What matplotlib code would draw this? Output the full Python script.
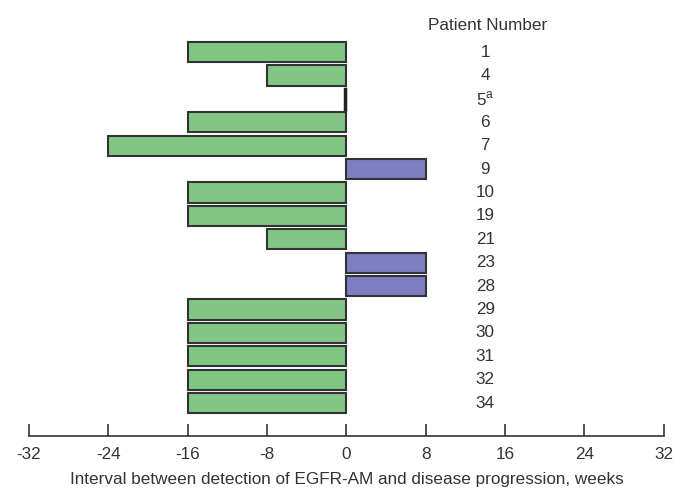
import matplotlib.pyplot as plt

plt.rcParams['font.family'] = ['Liberation Sans', 'DejaVu Sans']
plt.rcParams['axes.unicode_minus'] = False
plt.rcParams['mathtext.fontset'] = 'custom'
plt.rcParams['mathtext.rm'] = 'Liberation Sans'

# patient numbers (top to bottom) and interval in weeks
patients = ['1', '4', '5$^\\mathregular{a}$', '6', '7', '9', '10', '19', '21', '23', '28',
            '29', '30', '31', '32', '34']
weeks = [-16, -8, 0, -16, -24, 8, -16, -16, -8, 8, 8, -16, -16, -16, -16, -16]

green = '#82c685'
blue = '#7d7dc0'
colors = [blue if w > 0 else green for w in weeks]
txt = '#333333'

fig = plt.figure(figsize=(6.84, 4.90), dpi=100)
ax = fig.add_axes([0.0424, 0.110, 0.928, 0.859])

ypos = list(range(len(weeks)))
ax.barh(ypos, weeks, height=0.86, color=colors, edgecolor=txt, linewidth=1.5)
# patient 5 has no interval: drawn as a thin dark mark at zero
ax.plot([-0.1, -0.1], [2 - 0.43, 2 + 0.43], color='#222222', linewidth=2.5)

# patient labels on the right
label_x = 14.0
for y, p in zip(ypos, patients):
    ax.text(label_x, y, p, ha='center', va='center', fontsize=12.3, color=txt)
ax.text(label_x + 0.2, -1.12, 'Patient Number', ha='center', va='center', fontsize=12.3, color=txt)

ax.set_xlim(-32, 32)
ax.set_ylim(16.41, -1.58)
ax.set_xticks(range(-32, 33, 8))
ax.set_yticks([])
ax.tick_params(axis='x', direction='in', length=9, width=1.2, color=txt,
               labelsize=12.3, labelcolor=txt, pad=8)
for s in ['top', 'right', 'left']:
    ax.spines[s].set_visible(False)
ax.spines['bottom'].set_color(txt)
ax.spines['bottom'].set_linewidth(1.2)
ax.set_xlabel('Interval between detection of EGFR-AM and disease progression, weeks',
              fontsize=12.3, color=txt, labelpad=7)

plt.savefig('out.png')
